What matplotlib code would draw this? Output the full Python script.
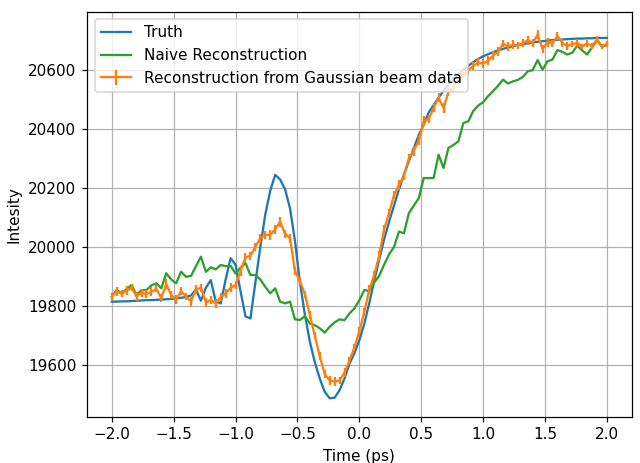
import numpy as np
import matplotlib
matplotlib.use("Agg")
import matplotlib.pyplot as plt

# time axis, 101 samples from -2 to 2 ps
t = np.linspace(-2.0, 2.0, 101)

truth = [19815, 19815, 19816, 19816, 19817, 19818, 19819, 19820, 19820, 19821,
         19822, 19823, 19824, 19826, 19828, 19831, 19836, 19856, 19818, 19862,
         19888, 19815, 19809, 19890, 19962, 19940, 19850, 19765, 19758, 19880,
         20000, 20110, 20190, 20244, 20228, 20195, 20130, 20020, 19880, 19770,
         19680, 19610, 19555, 19510, 19488, 19490, 19515, 19555, 19605, 19640,
         19685, 19740, 19810, 19885, 19958, 20025, 20085, 20140, 20195, 20245,
         20290, 20335, 20378, 20415, 20455, 20480, 20505, 20528, 20550, 20570,
         20585, 20600, 20613, 20625, 20636, 20645, 20652, 20659, 20665, 20670,
         20675, 20679, 20683, 20686, 20689, 20692, 20694, 20696, 20698, 20700,
         20701, 20702, 20703, 20704, 20705, 20705, 20706, 20706, 20707, 20707,
         20707]

naive = [19832, 19854, 19843, 19858, 19871, 19837, 19854, 19854, 19870, 19877,
         19860, 19911, 19890, 19877, 19916, 19899, 19902, 19935, 19967, 19916,
         19931, 19924, 19939, 19935, 19936, 19910, 19930, 19945, 19905, 19905,
         19890, 19865, 19843, 19860, 19815, 19809, 19815, 19755, 19753, 19766,
         19741, 19735, 19725, 19710, 19730, 19745, 19755, 19752, 19775, 19792,
         19820, 19854, 19851, 19880, 19902, 19940, 19975, 20000, 20052, 20046,
         20114, 20140, 20165, 20233, 20233, 20233, 20312, 20267, 20335, 20345,
         20357, 20419, 20425, 20460, 20478, 20490, 20510, 20527, 20545, 20566,
         20553, 20560, 20565, 20575, 20594, 20598, 20632, 20600, 20628, 20634,
         20666, 20660, 20651, 20657, 20681, 20665, 20651, 20675, 20699, 20677,
         20685]

gauss = [19832, 19849, 19842, 19852, 19862, 19832, 19845, 19841, 19848, 19858,
         19828, 19874, 19837, 19822, 19850, 19832, 19816, 19856, 19862, 19812,
         19820, 19809, 19830, 19843, 19862, 19871, 19918, 19965, 19970, 20000,
         20030, 20041, 20041, 20060, 20085, 20045, 20029, 19918, 19885, 19840,
         19770, 19700, 19630, 19570, 19548, 19545, 19548, 19575, 19615, 19660,
         19715, 19780, 19855, 19905, 19970, 20060, 20115, 20175, 20210, 20240,
         20300, 20325, 20360, 20425, 20433, 20470, 20505, 20470, 20525, 20540,
         20565, 20583, 20598, 20612, 20625, 20620, 20630, 20648, 20660, 20688,
         20678, 20684, 20681, 20690, 20699, 20690, 20718, 20670, 20693, 20688,
         20714, 20690, 20680, 20686, 20690, 20678, 20688, 20679, 20702, 20679,
         20688]

gauss_err = [12, 14, 13, 15, 12, 16, 13, 14, 15, 12,
             14, 16, 13, 15, 14, 13, 16, 15, 14, 16,
             13, 15, 14, 16, 15, 14, 16, 15, 14, 13,
             15, 14, 16, 15, 17, 14, 15, 13, 14, 12,
             13, 12, 14, 13, 15, 14, 13, 15, 12, 13,
             14, 13, 15, 14, 16, 13, 15, 14, 16, 15,
             14, 16, 15, 17, 14, 13, 15, 16, 14, 15,
             13, 14, 16, 15, 14, 15, 16, 14, 15, 13,
             14, 15, 13, 14, 15, 13, 16, 14, 15, 13,
             14, 12, 13, 11, 12, 10, 11, 10, 11, 9,
             10]

# drawn at 110 dpi so text and lines come out a little bigger
fig, ax = plt.subplots(figsize=(640 / 110, 463 / 110), dpi=110)
fig.subplots_adjust(left=0.136, right=0.987, bottom=0.100, top=0.975)

ax.plot(t, truth, label="Truth", color="C0")
ax.plot(t, naive, label="Naive Reconstruction", color="C2")
ax.errorbar(t, gauss, yerr=gauss_err, color="C1",
            label="Reconstruction from Gaussian beam data")

ax.set_xlabel("Time (ps)")
ax.set_ylabel("Intesity")
ax.grid(True)
ax.legend(loc="upper left")

fig.savefig("out.png", dpi=110)
